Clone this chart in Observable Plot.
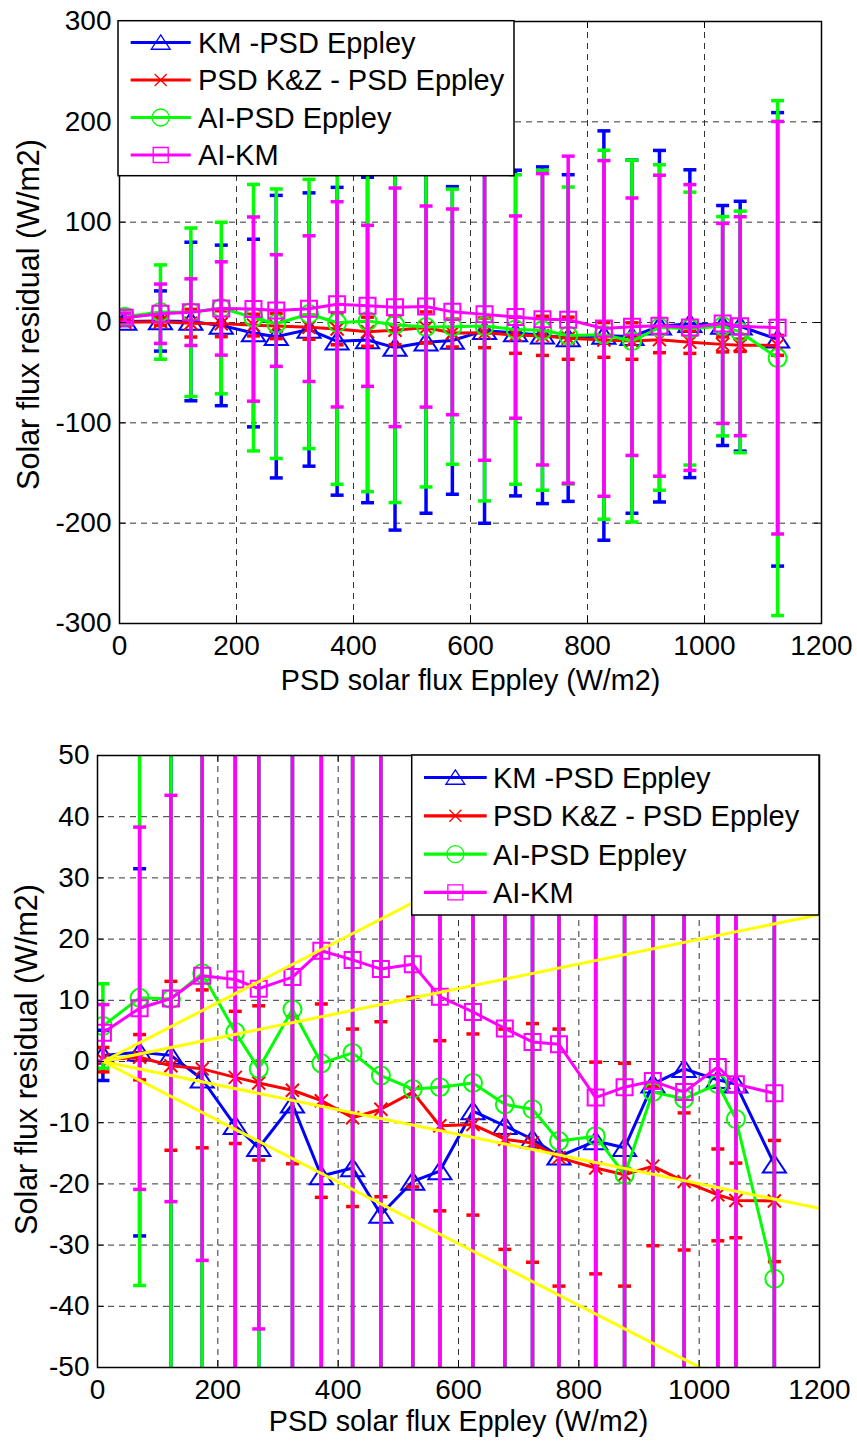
<!DOCTYPE html>
<html><head><meta charset="utf-8">
<script src="https://cdn.jsdelivr.net/npm/d3@7"></script>
<script src="https://cdn.jsdelivr.net/npm/@observablehq/plot@0.6"></script>
<style>
body{margin:0;background:#fff;}
#wrap{position:relative;width:857px;height:1441px;overflow:hidden;font-family:Arial,"Liberation Sans",sans-serif;}
#wrap svg{display:block;}
</style></head><body><div id="wrap"></div>
<script>
// ---------------- data ----------------
const xFlux = [9, 70, 122, 174, 229, 268, 324, 372, 424, 471, 524, 569, 624, 677, 723, 767, 828, 876, 923, 975, 1031, 1061, 1125];

const kmMean = [1.0, 1.5, 1.0, -2.9, -10.5, -14.1, -7.0, -18.7, -17.4, -25.0, -19.6, -17.9, -8.1, -10.5, -12.7, -15.5, -13.0, -14.1, -3.7, -1.2, -3.0, -3.7, -16.8];
const kmStd  = [4.1, 30, 79, 80, 93.5, 140.8, 136.2, 153.4, 162.2, 181.9, 170.5, 153.3, 192, 162.3, 167.8, 162.8, 204, 176, 175.2, 153.4, 119.6, 124.5, 226];

const kzMean = [0.3, 0.7, -0.7, -1.2, -2.6, -3.5, -4.7, -6.4, -9.2, -7.8, -5.0, -10.5, -10.3, -12.7, -13.3, -15.7, -17.4, -18.5, -17.1, -19.6, -21.8, -22.7, -22.8];
const kzStd  = [2, 3.7, 13.8, 12.9, 10.8, 12.6, 12, 15.8, 14.5, 14.3, 15.5, 13.9, 14.8, 18, 19.5, 21, 17.3, 18.2, 13, 11.2, 7.5, 6.1, 9.9];

const aiMean = [5.8, 10.4, 10.2, 14.4, 4.8, -1.2, 8.5, -0.3, 1.4, -2.3, -4.5, -4.2, -3.5, -7.0, -7.8, -13.0, -12.2, -18.5, -5.0, -6.1, -3.7, -9.4, -35.5];
const aiStd  = [6.9, 47, 84, 85.5, 132.8, 134.3, 134.2, 161, 170, 177.2, 159.4, 137.1, 174.3, 154.2, 159.4, 148, 183.9, 180.3, 162.2, 136, 109.3, 120.4, 256.6];

const akmMean = [4.7, 8.7, 10.3, 14.0, 13.4, 11.9, 13.8, 18.1, 16.6, 15.1, 15.9, 10.6, 8.1, 5.4, 3.2, 2.8, -5.9, -4.2, -3.2, -5.0, -0.9, -3.7, -5.2];
const akmStd  = [4.6, 29.6, 33.2, 46.5, 91.8, 55.6, 72.6, 102.3, 80.3, 118.9, 100.2, 102.5, 145.4, 100.8, 145.2, 163, 167.3, 128.3, 150, 142.4, 99.7, 109.1, 205.6];

const seriesNames = ["KM -PSD Eppley", "PSD K&Z - PSD Eppley", "AI-PSD Eppley", "AI-KM"];
const seriesColors = ["#0000ff", "#ff0000", "#00ff00", "#ff00ff"];

// yellow reference lines (bottom panel): start/end points
const refX1 = [9, 9, 9, 9];
const refY1 = [0, 0, 0, 0];
const refX2 = [1200, 1200, 1200, 1200];
const refY2 = [60, 24, -24, -60];

const xTicks = [0, 200, 400, 600, 800, 1000, 1200];
const yTicksTop = [-300, -200, -100, 0, 100, 200, 300];
const yTicksBottom = [-50, -40, -30, -20, -10, 0, 10, 20, 30, 40, 50];

const xLabel = "PSD solar flux Eppley (W/m2)";
const yLabel = "Solar flux residual (W/m2)";

// ---------------- symbols ----------------
const rOf = s => Math.sqrt(s / Math.PI);
const symTri = {draw(c, s){const r = rOf(s); c.moveTo(0, -0.85*r); c.lineTo(1.05*r, 0.75*r); c.lineTo(-1.05*r, 0.75*r); c.closePath();}};
const symCirc = {draw(c, s){const r = rOf(s); c.moveTo(r, 0); c.arc(0, 0, r, 0, 2*Math.PI);}};
const symSq = {draw(c, s){const r = rOf(s); c.rect(-r, -r, 2*r, 2*r);}};
const symX = {draw(c, s){const r = rOf(s); c.moveTo(-r,-r); c.lineTo(r,r); c.moveTo(-r,r); c.lineTo(r,-r);}};
const symCap = {draw(c, s){const r = rOf(s); c.moveTo(-r,0); c.lineTo(r,0);}};

const means = [kmMean, kzMean, aiMean, akmMean];
const stds = [kmStd, kzStd, aiStd, akmStd];
const syms = [symTri, symX, symCirc, symSq];
const symR = [11, 6.5, 9, 8];

const series = seriesNames.map((name, k) => ({
  name, color: seriesColors[k], symbol: syms[k], r: symR[k],
  rows: xFlux.map((x, i) => ({x, y: means[k][i], lo: means[k][i] - stds[k][i], hi: means[k][i] + stds[k][i]}))
}));

const refLines = refX1.map((_, i) => ({x1: refX1[i], y1: refY1[i], x2: refX2[i], y2: refY2[i]}));

const FONT = "Arial, 'Liberation Sans', sans-serif";

function panel(cfg) {
  const W = 857 - cfg.ml - cfg.mr;
  const H = cfg.height - cfg.mt - cfg.mb;
  const marks = [];
  // grid
  marks.push(Plot.ruleX(xTicks.slice(1, -1), {x: d => d, stroke: "#333", strokeWidth: 1, strokeDasharray: "6,5"}));
  marks.push(Plot.ruleY(cfg.yTicks.slice(1, -1), {y: d => d, stroke: "#333", strokeWidth: 1, strokeDasharray: "6,5"}));
  for (const s of series) {
    marks.push(Plot.ruleX(s.rows, {x: "x", y1: "lo", y2: "hi", stroke: s.color, strokeWidth: 3.5, clip: true}));
    marks.push(Plot.dot(s.rows, {x: "x", y: "lo", symbol: symCap, r: 6.5, stroke: s.color, strokeWidth: 3.5, fill: "none", clip: true}));
    marks.push(Plot.dot(s.rows, {x: "x", y: "hi", symbol: symCap, r: 6.5, stroke: s.color, strokeWidth: 3.5, fill: "none", clip: true}));
    marks.push(Plot.line(s.rows, {x: "x", y: "y", stroke: s.color, strokeWidth: 3, clip: true}));
    marks.push(Plot.dot(s.rows, {x: "x", y: "y", symbol: s.symbol, r: s.r, stroke: s.color, strokeWidth: 2, fill: "none", clip: true}));
  }
  if (cfg.ref) {
    marks.push(Plot.link(refLines, {x1: "x1", y1: "y1", x2: "x2", y2: "y2", stroke: "#ffff00", strokeWidth: 3, clip: true}));
  }
  // inward ticks on all sides
  marks.push(Plot.ruleX(xTicks, {x: d => d, insetTop: H - 7, stroke: "#000"}));
  marks.push(Plot.ruleX(xTicks, {x: d => d, insetBottom: H - 7, stroke: "#000"}));
  marks.push(Plot.ruleY(cfg.yTicks, {y: d => d, insetRight: W - 7, stroke: "#000"}));
  marks.push(Plot.ruleY(cfg.yTicks, {y: d => d, insetLeft: W - 7, stroke: "#000"}));
  marks.push(Plot.frame({stroke: "#000", strokeWidth: 1.5}));
  // axis titles
  marks.push(Plot.text([xLabel], {text: d => d, frameAnchor: "bottom", textAnchor: "middle", dy: cfg.xLabelDy, lineAnchor: "middle", fontSize: 28.7}));
  marks.push(Plot.text([yLabel], {text: d => d, frameAnchor: "left", textAnchor: "middle", rotate: -90, dx: cfg.yLabelDx, dy: cfg.yLabelDy, lineAnchor: "middle", fontSize: 30.5}));

  return Plot.plot({
    width: 857, height: cfg.height,
    marginTop: cfg.mt, marginBottom: cfg.mb, marginLeft: cfg.ml, marginRight: cfg.mr,
    style: {fontSize: "28px", fontFamily: FONT, color: "#000", background: "transparent"},
    x: {domain: [0, 1200], ticks: xTicks, tickSize: 0, tickPadding: 12, tickFormat: d => String(d), label: null},
    y: {domain: cfg.yDomain, ticks: cfg.yTicks, tickSize: 0, tickPadding: 8, tickFormat: d => String(d), label: null},
    marks
  });
}

const wrap = document.getElementById("wrap");
wrap.appendChild(panel({height: 720, mt: 21, mb: 97, ml: 119, mr: 36, yDomain: [-300, 300], yTicks: yTicksTop, xLabelDy: 57, yLabelDx: -90, yLabelDy: -8, ref: false}));
wrap.appendChild(panel({height: 721, mt: 35, mb: 74, ml: 97, mr: 38, yDomain: [-50, 50], yTicks: yTicksBottom, xLabelDy: 54, yLabelDx: -70, yLabelDy: -2, ref: true}));

// ---------------- legends (overlay) ----------------
const ov = d3.select(wrap).append("svg")
  .attr("width", 857).attr("height", 1441)
  .style("position", "absolute").style("left", 0).style("top", 0).style("pointer-events", "none");

const legSym = [symTri, symX, symCirc, symSq];
const legR = [9, 6, 8.5, 7.5];
function legend(box) {
  const g = ov.append("g");
  g.append("rect").attr("x", box.x).attr("y", box.y).attr("width", box.w).attr("height", box.h)
    .attr("fill", "#fff").attr("stroke", "#000").attr("stroke-width", 1.5);
  series.forEach((s, i) => {
    const y = box.row0 + i * box.step;
    g.append("line").attr("x1", box.x + box.l1).attr("x2", box.x + box.l2).attr("y1", y).attr("y2", y)
      .attr("stroke", s.color).attr("stroke-width", 3.2);
    const p = d3.path(); legSym[i].draw(p, Math.PI * legR[i] * legR[i]);
    g.append("path").attr("d", p.toString()).attr("transform", `translate(${box.x + (box.l1 + box.l2) / 2},${y})`)
      .attr("fill", "none").attr("stroke", s.color).attr("stroke-width", 1.3);
    g.append("text").attr("x", box.x + box.tx).attr("y", y).attr("dy", "0.36em")
      .attr("font-family", FONT).attr("font-size", 29).attr("fill", "#000").text(s.name);
  });
}
legend({x: 118, y: 20.7, w: 396, h: 155, row0: 42.5, step: 37.5, l1: 12.7, l2: 72.7, tx: 80});
legend({x: 411.7, y: 755, w: 407.3, h: 160, row0: 777.5, step: 38.3, l1: 12.3, l2: 75, tx: 81.3});
</script>
</body></html>
